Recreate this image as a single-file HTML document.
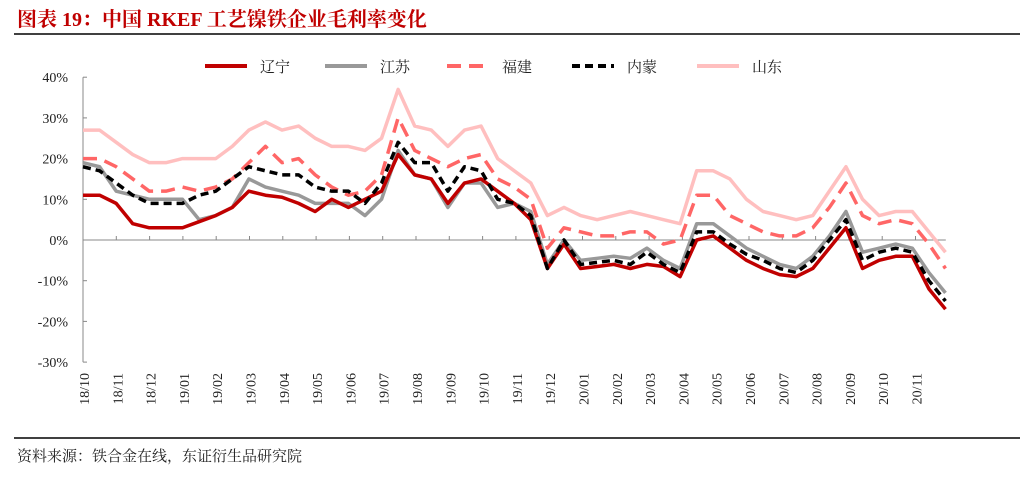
<!DOCTYPE html>
<html><head><meta charset="utf-8"><style>
body{margin:0;background:#fff;}
svg{display:block;}
</style></head><body>
<svg width="1033" height="489" viewBox="0 0 1033 489" id="c" font-family="'Liberation Serif','Noto Serif CJK SC',serif">
<text x="17" y="26" fill="#c00000" font-size="20" font-weight="bold">图表 19：中国 RKEF 工艺镍铁企业毛利率变化</text>
<line x1="14" y1="34" x2="1020" y2="34" stroke="#000" stroke-width="1.5"/>
<line x1="14" y1="438" x2="1020" y2="438" stroke="#000" stroke-width="1.5"/>
<text x="17" y="461" font-size="15" fill="#222">资料来源：铁合金在线，东证衍生品研究院</text>
<g id="axes"></g>
<g id="series"></g>
<g id="legend"></g>
</svg>
<script>
const months=["18/10","18/11","18/12","19/01","19/02","19/03","19/04","19/05","19/06","19/07","19/08","19/09","19/10","19/11","19/12","20/01","20/02","20/03","20/04","20/05","20/06","20/07","20/08","20/09","20/10","20/11"];
const yTicks=[40,30,20,10,0,-10,-20,-30];
const seriesNames=["辽宁","江苏","福建","内蒙","山东"];
const liaoning=[11,11,9,4,3,3,3,4.5,6,8,12,11,10.5,9,7,10,8,10,12,21,16,15,9,14,15,12,9,5,-7,-1,-7,-6.5,-6,-7,-6,-6.5,-9,0,1,-2,-5,-7,-8.5,-9,-7,-2,3,-7,-5,-4,-4,-12,-17];
const jiangsu=[19,18,12,11,10,10,10,5,6,8,15,13,12,11,9,9,9,6,10,22,16,15,8,14,14,8,9,7,-6,0,-5,-4.5,-4,-4.5,-2,-5,-7,4,4,1,-2,-4,-6,-7,-4,1,7,-3,-2,-1,-2,-8,-13];
const neimeng=[18,17,14,11,9,9,9,11,12,15,18,17,16,16,13,12,12,9,14,24,19,19,12,18,17,10,9,6,-7,0,-6,-5.5,-5,-6,-3,-6,-8,2,2,-1,-3.5,-5,-7,-8,-5,0,5,-5,-3,-2,-3,-10,-15];
const fujian=[20,20,18,15,12,12,13,12,13,15,19,23,19,20,16,13,11,12,16,30,22,20,18,20,21,15,13,10,-2,3,2,1,1,2,2,-1,0,11,11,6,4,2,1,1,3,8,14,6,4,5,4,-1,-7];
const shandong=[27,27,24,21,19,19,20,20,20,23,27,29,27,28,25,23,23,22,25,37,28,27,23,27,28,20,17,14,6,8,6,5,6,7,6,5,4,17,17,15,10,7,6,5,6,12,18,10,6,7,7,2,-3];
const svg=document.getElementById('c');
const NS="http://www.w3.org/2000/svg";
const X0=83,MW=33.3,Y0=240,PY=4.07;
function xm(m){return X0+m*MW;}
function yv(v){return Y0-v*PY;}
function el(t,a,p){const e=document.createElementNS(NS,t);for(const k in a)e.setAttribute(k,a[k]);(p||svg).appendChild(e);return e;}
const axes=document.getElementById('axes');
el('line',{x1:X0,y1:yv(40),x2:X0,y2:yv(-30),stroke:'#888','stroke-width':1},axes);
el('line',{x1:X0,y1:Y0,x2:xm(26)-3,y2:Y0,stroke:'#888','stroke-width':1},axes);
yTicks.forEach(v=>{
 const l=el('line',{x1:X0,y1:yv(v),x2:X0+4,y2:yv(v),stroke:'#888'},axes);
 
 
 const t=el('text',{x:68,y:yv(v)+5,'text-anchor':'end','font-size':14,fill:'#222'},axes);
 t.textContent=v+'%';
 
 
});
months.forEach((m,i)=>{
 if(i>0){const l=el('line',{x1:xm(i),y1:Y0,x2:xm(i),y2:Y0-4,stroke:'#888'},axes);
 
 }
 const x=xm(i)+1,y=373;
 const t=el('text',{x:0,y:0,transform:`translate(${x+5},${y}) rotate(-90)`,'text-anchor':'end','font-size':14,fill:'#222'},axes);
 t.textContent=m;
 
 
});
const styles=[
 {d:liaoning,c:'#c00000',w:3.5,da:''},
 {d:jiangsu,c:'#999999',w:3.5,da:''},
 {d:fujian,c:'#ff6666',w:3.5,da:'14,8'},
 {d:neimeng,c:'#000000',w:3.5,da:'8,5'},
 {d:shandong,c:'#ffbfbf',w:3.5,da:''}];
const order=[4,2,1,0,3];
const sg=document.getElementById('series');
order.forEach(i=>{
 const s=styles[i];
 const pts=s.d.map((v,k)=>xm(k*0.5*(25.9/26))+','+yv(v)).join(' ');
 const p=el('polyline',{points:pts,fill:'none',stroke:s.c,'stroke-width':s.w,'stroke-dasharray':s.da,'stroke-linejoin':'round'},sg);
 
 
});
const lg=document.getElementById('legend');
const lx=[205,325,447,572,697];
seriesNames.forEach((n,i)=>{
 const s=styles[i];
 const l=el('line',{x1:lx[i],y1:66,x2:lx[i]+42,y2:66,stroke:s.c,'stroke-width':4,'stroke-dasharray':s.da},lg);
 
 
 const t=el('text',{x:lx[i]+55,y:72,'font-size':15,fill:'#222'},lg);
 t.textContent=n;
 
 
});
</script>
</body></html>
